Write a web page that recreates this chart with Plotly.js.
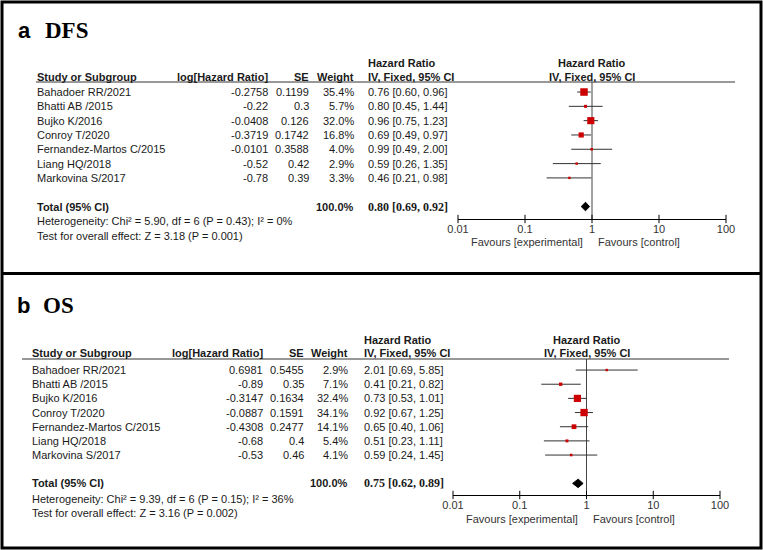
<!DOCTYPE html>
<html><head><meta charset="utf-8">
<script src="https://cdn.plot.ly/plotly-3.0.1.min.js"></script>
<style>html,body{margin:0;padding:0;background:#fff}</style>
</head><body><div id="chart" style="width:763px;height:550px"></div>
<script>
// ---------------- DATA ----------------
const studies = ["Bahadoer RR/2021","Bhatti AB /2015","Bujko K/2016","Conroy T/2020","Fernandez-Martos C/2015","Liang HQ/2018","Markovina S/2017"];
const tickVals = [0.01, 0.1, 1, 10, 100];
const tickText = ["0.01", "0.1", "1", "10", "100"];

// a DFS
const dfsLogHR = ["-0.2758","-0.22","-0.0408","-0.3719","-0.0101","-0.52","-0.78"];
const dfsSE = ["0.1199","0.3","0.126","0.1742","0.3588","0.42","0.39"];
const dfsWeight = [35.4, 5.7, 32.0, 16.8, 4.0, 2.9, 3.3];
const dfsHR = [0.76, 0.80, 0.96, 0.69, 0.99, 0.59, 0.46];
const dfsLo = [0.60, 0.45, 0.75, 0.49, 0.49, 0.26, 0.21];
const dfsHi = [0.96, 1.44, 1.23, 0.97, 2.00, 1.35, 0.98];
const dfsTotal = [0.80, 0.69, 0.92];
const dfsHet = "Heterogeneity: Chi² = 5.90, df = 6 (P = 0.43); I² = 0%";
const dfsTest = "Test for overall effect: Z = 3.18 (P = 0.001)";

// b OS
const osLogHR = ["0.6981","-0.89","-0.3147","-0.0887","-0.4308","-0.68","-0.53"];
const osSE = ["0.5455","0.35","0.1634","0.1591","0.2477","0.4","0.46"];
const osWeight = [2.9, 7.1, 32.4, 34.1, 14.1, 5.4, 4.1];
const osHR = [2.01, 0.41, 0.73, 0.92, 0.65, 0.51, 0.59];
const osLo = [0.69, 0.21, 0.53, 0.67, 0.40, 0.23, 0.24];
const osHi = [5.85, 0.82, 1.01, 1.25, 1.06, 1.11, 1.45];
const osTotal = [0.75, 0.62, 0.89];
const osHet = "Heterogeneity: Chi² = 9.39, df = 6 (P = 0.15); I² = 36%";
const osTest = "Test for overall effect: Z = 3.16 (P = 0.002)";

// ---------------- LAYOUT HELPERS ----------------
const W = 763, H = 550;
const px = x => x / W;
const py = y => 1 - y / H;
const SANS = "Liberation Sans, Arial, sans-serif";
const SERIF = "Liberation Serif, Times New Roman, serif";
const TXT = "#1a1a1a";

const panels = [
  { letter: "a", title: "DFS", xa: "x", ya: "y", xaxisKey: "xaxis", yaxisKey: "yaxis",
    logHR: dfsLogHR, se: dfsSE, w: dfsWeight, hr: dfsHR, lo: dfsLo, hi: dfsHi, tot: dfsTotal, het: dfsHet, test: dfsTest,
    titleY: 30, letterX: 17, titleX: 44,
    cName: 36, cLog: 269, cSE: 310, cW: 355, cHR: 367, h1: 63, h2: 77, lineY: 82, lineX0: 36, lineX1: 735,
    axX0: 458, axX1: 726, axY: 219, yTop: -0.70, yBot: 8.87, favY: 242, hetY: 221, testY: 236 },
  { letter: "b", title: "OS", xa: "x2", ya: "y2", xaxisKey: "xaxis2", yaxisKey: "yaxis2",
    logHR: osLogHR, se: osSE, w: osWeight, hr: osHR, lo: osLo, hi: osHi, tot: osTotal, het: osHet, test: osTest,
    titleY: 305, letterX: 16, titleX: 42,
    cName: 31, cLog: 264, cSE: 305, cW: 349, cHR: 363, h1: 340, h2: 353, lineY: 359, lineX0: 22, lineX1: 729,
    axX0: 453, axX1: 720, axY: 495, yTop: -0.78, yBot: 8.82, favY: 519, hetY: 499, testY: 513 }
];

const traces = [];
const annotations = [];
const shapes = [];
const layout = {
  width: W, height: H, margin: { l: 0, r: 0, t: 0, b: 0 },
  paper_bgcolor: "#fff", plot_bgcolor: "rgba(0,0,0,0)", showlegend: false,
  annotations, shapes
};

function ann(text, x, y, opts) {
  annotations.push(Object.assign({
    text, x, y, xref: "paper", yref: "paper", showarrow: false,
    xanchor: "left", yanchor: "middle", borderpad: 0,
    font: { family: SANS, size: 11, color: TXT }
  }, opts || {}));
}

panels.forEach(p => {
  const n = studies.length;
  const rows = studies.map((s, i) => i);
  const totRow = n + 1;

  layout[p.xaxisKey] = {
    type: "log", range: [-2, 2], domain: [px(p.axX0), px(p.axX1)], anchor: p.ya,
    showline: true, linecolor: "#000", linewidth: 1, ticks: "", showgrid: false, zeroline: false,
    tickmode: "array", tickvals: tickVals, ticktext: tickText,
    tickfont: { family: SANS, size: 11, color: "#333" }, fixedrange: true
  };
  layout[p.yaxisKey] = {
    range: [p.yBot, p.yTop], domain: [py(p.axY), py(p.lineY)], anchor: p.xa,
    visible: false, fixedrange: true
  };

  // vertical line of no effect
  traces.push({ type: "scatter", mode: "lines", x: [1, 1], y: [p.yTop, p.yBot], xaxis: p.xa, yaxis: p.ya,
    line: { color: "#444", width: 1 }, cliponaxis: false, hoverinfo: "skip" });

  // CI whiskers
  const cx = [], cy = [];
  rows.forEach(i => { cx.push(p.lo[i], p.hi[i], null); cy.push(i, i, null); });
  traces.push({ type: "scatter", mode: "lines", x: cx, y: cy, xaxis: p.xa, yaxis: p.ya,
    line: { color: "#333", width: 1 }, cliponaxis: false, hoverinfo: "skip" });

  // squares
  traces.push({ type: "scatter", mode: "markers", x: p.hr, y: rows, xaxis: p.xa, yaxis: p.ya,
    marker: { symbol: "square", color: "#cc0000", opacity: 1,
      size: p.w.map(w => Math.max(2.4, 12.6 * Math.sqrt(w / 100))), line: { width: 0 } },
    cliponaxis: false });

  // diamond
  traces.push({ type: "scatter", mode: "lines", fill: "toself",
    x: [p.tot[1], p.tot[0], p.tot[2], p.tot[0], p.tot[1]],
    y: [totRow, totRow - 0.3, totRow, totRow + 0.3, totRow],
    xaxis: p.xa, yaxis: p.ya, fillcolor: "#000", line: { color: "#000", width: 1 }, cliponaxis: false });

  // axis tick marks
  traces.push({ type: "scatter", mode: "markers", x: tickVals, y: tickVals.map(() => p.yBot),
    xaxis: p.xa, yaxis: p.ya, cliponaxis: false,
    marker: { symbol: "line-ns", size: 6, opacity: 1, line: { color: "#000", width: 1 } } });

  // Title
  ann("<b>" + p.letter + "</b>", px(p.letterX), py(p.titleY), { font: { family: SANS, size: 22, color: "#000" } });
  ann("<b>" + p.title + "</b>", px(p.titleX), py(p.titleY), { font: { family: SERIF, size: 23, color: "#000" } });

  // headers
  const hb = { family: SANS, size: 11, color: TXT };
  ann("<b>Study or Subgroup</b>", px(p.cName), py(p.h2), { font: hb });
  ann("<b>log[Hazard Ratio]</b>", px(p.cLog), py(p.h2), { xanchor: "right", font: hb });
  ann("<b>SE</b>", px(p.cSE), py(p.h2), { xanchor: "right", font: hb });
  ann("<b>Weight</b>", px(p.cW), py(p.h2), { xanchor: "right", font: hb });
  ann("<b>Hazard Ratio</b>", px(p.cHR), py(p.h1), { font: hb });
  ann("<b>IV, Fixed, 95% CI</b>", px(p.cHR), py(p.h2), { font: hb });
  const cxp = px((p.axX0 + p.axX1) / 2);
  ann("<b>Hazard Ratio</b>", cxp, py(p.h1), { xanchor: "center", font: hb });
  ann("<b>IV, Fixed, 95% CI</b>", cxp, py(p.h2), { xanchor: "center", font: hb });
  shapes.push({ type: "line", xref: "paper", yref: "paper", x0: px(p.lineX0), x1: px(p.lineX1),
    y0: py(p.lineY), y1: py(p.lineY), line: { color: "#333", width: 1 } });

  // rows
  const yr = { yref: p.ya };
  rows.forEach(i => {
    ann(studies[i], px(p.cName), i, yr);
    ann(p.logHR[i], px(p.cLog), i, Object.assign({ xanchor: "right" }, yr));
    ann(p.se[i], px(p.cSE), i, Object.assign({ xanchor: "right" }, yr));
    ann(p.w[i].toFixed(1) + "%", px(p.cW), i, Object.assign({ xanchor: "right" }, yr));
    ann(p.hr[i].toFixed(2) + " [" + p.lo[i].toFixed(2) + ", " + p.hi[i].toFixed(2) + "]", px(p.cHR), i, yr);
  });
  const totalW = p.w.reduce((a, b) => a + b, 0);
  ann("<b>Total (95% CI)</b>", px(p.cName), totRow, yr);
  ann("<b>" + Math.round(totalW).toFixed(1) + "%</b>", px(p.cW), totRow, Object.assign({ xanchor: "right" }, yr));
  ann("<b>" + p.tot[0].toFixed(2) + " [" + p.tot[1].toFixed(2) + ", " + p.tot[2].toFixed(2) + "]</b>", px(p.cHR), totRow,
    Object.assign({ font: { family: SERIF, size: 12, color: TXT } }, yr));
  ann(p.het, px(p.cName), py(p.hetY));
  ann(p.test, px(p.cName), py(p.testY));

  // favours labels
  const oneX = px(p.axX0 + (p.axX1 - p.axX0) / 2);
  ann("Favours [experimental]", oneX, py(p.favY), { xanchor: "right", xshift: -8, font: { family: SANS, size: 11, color: "#333" } });
  ann("Favours [control]", oneX, py(p.favY), { xanchor: "left", xshift: 5, font: { family: SANS, size: 11, color: "#333" } });
});

// frame and divider
shapes.push({ type: "rect", xref: "paper", yref: "paper", x0: px(2), x1: px(761), y0: py(548), y1: py(2),
  line: { color: "#000", width: 3 } });
shapes.push({ type: "line", xref: "paper", yref: "paper", x0: px(2), x1: px(761), y0: py(273.5), y1: py(273.5),
  line: { color: "#000", width: 3 } });

Plotly.newPlot("chart", traces, layout, { displayModeBar: false, staticPlot: true });
</script>
</body></html>
